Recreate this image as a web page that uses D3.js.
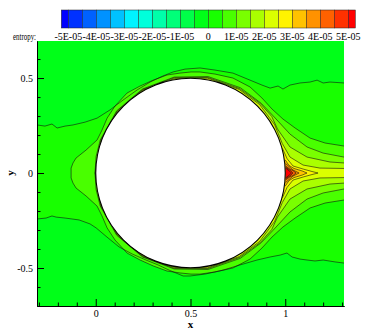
<!DOCTYPE html>
<html>
<head>
<meta charset="utf-8">
<script src="https://cdn.jsdelivr.net/npm/d3@7"></script>
<style>
	body { margin: 0; background: #fff; }
	svg { display: block; }
	svg text { font-family: 'Liberation Serif', 'DejaVu Serif', serif; }
</style>
</head>
<body>
<div id="chart"></div>
<script>
// contour levels shown in the legend
var levels = [-5e-5, -4.5e-5, -4e-5, -3.5e-5, -3e-5, -2.5e-5, -2e-5, -1.5e-5, -1e-5, -5e-6, 0,
	5e-6, 1e-5, 1.5e-5, 2e-5, 2.5e-5, 3e-5, 3.5e-5, 4e-5, 4.5e-5, 5e-5];
// one colour per band (below first level ... above last level)
var bandColors = ["#0000ff", "#0031ff", "#0061ff", "#0092ff", "#00c2ff", "#00f3ff", "#00ffdb",
	"#00ffaa", "#00ff79", "#00ff49", "#00ff18", "#18ff00", "#49ff00", "#79ff00", "#aaff00",
	"#dbff00", "#fff300", "#ffc200", "#ff9200", "#ff6100", "#ff3100", "#ff0000"];
var legendTickValues = [-5e-5, -4e-5, -3e-5, -2e-5, -1e-5, 0, 1e-5, 2e-5, 3e-5, 4e-5, 5e-5];
var legendTickLabels = ["-5E-05", "-4E-05", "-3E-05", "-2E-05", "-1E-05", "0",
	"1E-05", "2E-05", "3E-05", "4E-05", "5E-05"];

var xMajorTicks = [0, 0.5, 1];
var xMinorTicks = [-0.3, -0.2, -0.1, 0.1, 0.2, 0.3, 0.4, 0.6, 0.7, 0.8, 0.9, 1.1, 1.2, 1.3];
var yMajorTicks = [-0.5, 0, 0.5];
var yMinorTicks = [-0.6, -0.4, -0.3, -0.2, -0.1, 0.1, 0.2, 0.3, 0.4, 0.6];

var cylinder = { cx: 0.5, cy: 0, r: 0.5 };

/* level 0 contour (upper and lower branch) */
var zeroTop = [[-0.310, 0.253], [-0.268, 0.247], [-0.231, 0.258], [-0.204, 0.237], [-0.162, 0.247],
	[-0.120, 0.253], [-0.056, 0.268], [0.007, 0.289], [0.075, 0.332], [0.144, 0.384], [0.218, 0.437],
	[0.287, 0.479], [0.355, 0.511], [0.408, 0.532], [0.471, 0.547], [0.550, 0.553], [0.629, 0.542],
	[0.724, 0.526], [0.814, 0.489], [0.877, 0.463], [0.920, 0.447], [0.962, 0.458], [0.988, 0.442],
	[1.025, 0.463], [1.078, 0.474], [1.131, 0.479], [1.168, 0.489], [1.200, 0.474], [1.236, 0.479],
	[1.310, 0.474]];
var zeroBottom = [[-0.310, -0.242], [-0.262, -0.237], [-0.231, -0.226], [-0.209, -0.232], [-0.162, -0.237],
	[-0.125, -0.242], [-0.088, -0.247], [-0.030, -0.268], [0.002, -0.289], [0.065, -0.342], [0.123, -0.389],
	[0.192, -0.426], [0.265, -0.458], [0.329, -0.484], [0.387, -0.511], [0.461, -0.542], [0.498, -0.542],
	[0.577, -0.532], [0.672, -0.511], [0.761, -0.484], [0.851, -0.458], [0.920, -0.442], [0.973, -0.432],
	[1.009, -0.421], [1.036, -0.442], [1.078, -0.453], [1.115, -0.458], [1.157, -0.463], [1.200, -0.458],
	[1.263, -0.468], [1.310, -0.474]];

/* positive levels, upper branch (lower branch is its mirror) */
var level05 = [[-0.130, 0], [-0.130, 0.026], [-0.120, 0.053], [-0.104, 0.079], [-0.051, 0.121], [0.007, 0.174],
	[0.033, 0.226], [0.060, 0.289], [0.102, 0.353], [0.165, 0.421], [0.234, 0.458], [0.303, 0.489],
	[0.376, 0.516], [0.445, 0.526], [0.503, 0.532], [0.550, 0.532], [0.629, 0.521], [0.724, 0.500],
	[0.814, 0.453], [0.877, 0.395], [0.930, 0.337], [0.988, 0.284], [1.052, 0.237], [1.131, 0.184],
	[1.210, 0.158], [1.310, 0.142]];
var level10 = [[-0.004, 0], [0.002, 0.088], [0.024, 0.174], [0.111, 0.328], [0.247, 0.442], [0.414, 0.505],
	[0.592, 0.508], [0.763, 0.449], [0.872, 0.368], [0.935, 0.302], [1.025, 0.205], [1.115, 0.137],
	[1.200, 0.105], [1.310, 0.084]];
var level15 = [[-0.003, 0], [0.027, 0.173], [0.113, 0.326], [0.248, 0.440], [0.415, 0.502], [0.592, 0.503],
	[0.760, 0.444], [0.869, 0.365], [0.929, 0.297], [0.959, 0.232], [1.025, 0.137], [1.115, 0.084],
	[1.236, 0.058], [1.310, 0.053]];
var level20 = [[-0.0015, 0], [0.030, 0.172], [0.116, 0.324], [0.250, 0.437], [0.415, 0.497], [0.591, 0.499],
	[0.757, 0.440], [0.865, 0.360], [0.944, 0.254], [0.984, 0.156], [1.025, 0.084], [1.094, 0.042],
	[1.183, 0.026], [1.310, 0.024]];
var level25 = [[0.985, 0.130], [1.010, 0.075], [1.041, 0.037], [1.094, 0.021], [1.141, 0.008], [1.173, 0]];
var level30 = [[0.999, 0.070], [1.020, 0.040], [1.046, 0.024], [1.089, 0.011], [1.115, 0]];
var level35 = [[1.002, 0.050], [1.041, 0.016], [1.073, 0]];
var level40 = [[1.003, 0.036], [1.025, 0.020], [1.041, 0.013], [1.057, 0]];
var level45 = [[1.003, 0.030], [1.025, 0.015], [1.041, 0]];
var level50 = [[1.002, 0.026], [1.020, 0.012], [1.033, 0]];

var contours = [
	{ level: 5e-6, upper: level05 }, { level: 1e-5, upper: level10 }, { level: 1.5e-5, upper: level15 },
	{ level: 2e-5, upper: level20 }, { level: 2.5e-5, upper: level25 }, { level: 3e-5, upper: level30 },
	{ level: 3.5e-5, upper: level35 }, { level: 4e-5, upper: level40 }, { level: 4.5e-5, upper: level45 },
	{ level: 5e-5, upper: level50 }
];

var width = 374, height = 332;
var plot = { left: 37, right: 344, top: 41, bottom: 306 };
var serif = "'Liberation Serif', 'DejaVu Serif', serif";

var svg = d3.select("#chart").append("svg")
	.attr("width", width)
	.attr("height", height)
	.attr("font-family", serif);

var x = d3.scaleLinear().domain([-0.31, 1.31]).range([plot.left, plot.right]);
var y = d3.scaleLinear().domain([-0.7, 0.695]).range([plot.bottom, plot.top]);
var color = d3.scaleThreshold().domain(levels).range(bandColors);

var line = d3.line().x(function (d) { return x(d[0]); }).y(function (d) { return y(d[1]); });
function mirror(pts) { return pts.map(function (p) { return [p[0], -p[1]]; }); }

svg.append("clipPath").attr("id", "plotClip")
	.append("rect")
	.attr("x", plot.left).attr("y", plot.top)
	.attr("width", plot.right - plot.left).attr("height", plot.bottom - plot.top);

var field = svg.append("g").attr("clip-path", "url(#plotClip)");

// background band (just below zero)
field.append("rect")
	.attr("x", plot.left).attr("y", plot.top)
	.attr("width", plot.right - plot.left).attr("height", plot.bottom - plot.top)
	.attr("fill", color(-2.5e-6));

// flood: level 0 then each positive level inside it
field.append("path")
	.attr("d", line(zeroTop.concat(zeroBottom.slice().reverse())) + "Z")
	.attr("fill", color(0));

contours.forEach(function (c) {
	field.append("path")
		.attr("d", line(c.upper.concat(mirror(c.upper).reverse())) + "Z")
		.attr("fill", color(c.level));
});

// contour lines
var lineG = field.append("g")
	.attr("fill", "none")
	.attr("stroke", "#111")
	.attr("stroke-width", 0.7)
	.attr("stroke-opacity", 0.85);
lineG.append("path").attr("d", line(zeroTop));
lineG.append("path").attr("d", line(zeroBottom));
contours.forEach(function (c) {
	lineG.append("path").attr("d", line(c.upper));
	lineG.append("path").attr("d", line(mirror(c.upper)));
});

// the cylinder
field.append("circle")
	.attr("cx", x(cylinder.cx))
	.attr("cy", y(cylinder.cy))
	.attr("r", x(cylinder.cx + cylinder.r) - x(cylinder.cx))
	.attr("fill", "#fff")
	.attr("stroke", "#000")
	.attr("stroke-width", 1.1);

// axes
function styleAxis(g) {
	g.attr("font-family", serif).attr("font-size", 10);
	g.selectAll("text").attr("fill", "#000");
	g.selectAll("line").attr("stroke", "#000");
	g.select(".domain").attr("stroke", "#000").attr("stroke-width", 1);
}

svg.append("g")
	.attr("transform", "translate(0," + plot.bottom + ")")
	.call(d3.axisBottom(x).tickValues(xMinorTicks).tickSize(-3.5).tickSizeOuter(0).tickFormat(""))
	.call(styleAxis);
svg.append("g")
	.attr("transform", "translate(0," + plot.bottom + ")")
	.call(d3.axisBottom(x).tickValues(xMajorTicks).tickSize(-7).tickSizeOuter(0).tickPadding(4)
		.tickFormat(function (d) { return String(d); }))
	.call(styleAxis);

svg.append("g")
	.attr("transform", "translate(" + plot.left + ",0)")
	.call(d3.axisLeft(y).tickValues(yMinorTicks).tickSize(-3.5).tickSizeOuter(0).tickFormat(""))
	.call(styleAxis);
svg.append("g")
	.attr("transform", "translate(" + plot.left + ",0)")
	.call(d3.axisLeft(y).tickValues(yMajorTicks).tickSize(-7).tickSizeOuter(0).tickPadding(4)
		.tickFormat(function (d) { return String(d); }))
	.call(styleAxis);

svg.append("text")
	.attr("x", x(0.5)).attr("y", 328)
	.attr("text-anchor", "middle")
	.attr("font-weight", "bold")
	.attr("font-size", 11)
	.text("x");
svg.append("text")
	.attr("transform", "translate(14," + y(0) + ") rotate(-90)")
	.attr("text-anchor", "middle")
	.attr("font-weight", "bold")
	.attr("font-size", 11)
	.text("y");

// legend
var lx = d3.scaleLinear().domain([levels[0], levels[levels.length - 1]]).range([68.3, 348.3]);
var halfStep = (lx(levels[1]) - lx(levels[0])) / 2;
var legend = svg.append("g");
var bandEdges = [lx(levels[0]) - halfStep].concat(levels.map(lx), [lx(levels[levels.length - 1]) + halfStep]);

legend.selectAll("rect")
	.data(bandColors)
	.join("rect")
	.attr("x", function (d, i) { return bandEdges[i]; })
	.attr("y", 10)
	.attr("width", function (d, i) { return bandEdges[i + 1] - bandEdges[i]; })
	.attr("height", 18)
	.attr("fill", function (d) { return d; })
	.attr("stroke", "#222")
	.attr("stroke-width", 0.5);

legend.selectAll("text.tick")
	.data(legendTickValues)
	.join("text")
	.attr("class", "tick")
	.attr("x", function (d) { return lx(d); })
	.attr("y", 40)
	.attr("text-anchor", "middle")
	.attr("font-size", 10)
	.text(function (d, i) { return legendTickLabels[i]; });

legend.append("text")
	.attr("x", 13).attr("y", 40)
	.attr("font-size", 10)
	.attr("textLength", 23)
	.attr("lengthAdjust", "spacingAndGlyphs")
	.text("entropy:");
</script>
</body>
</html>
